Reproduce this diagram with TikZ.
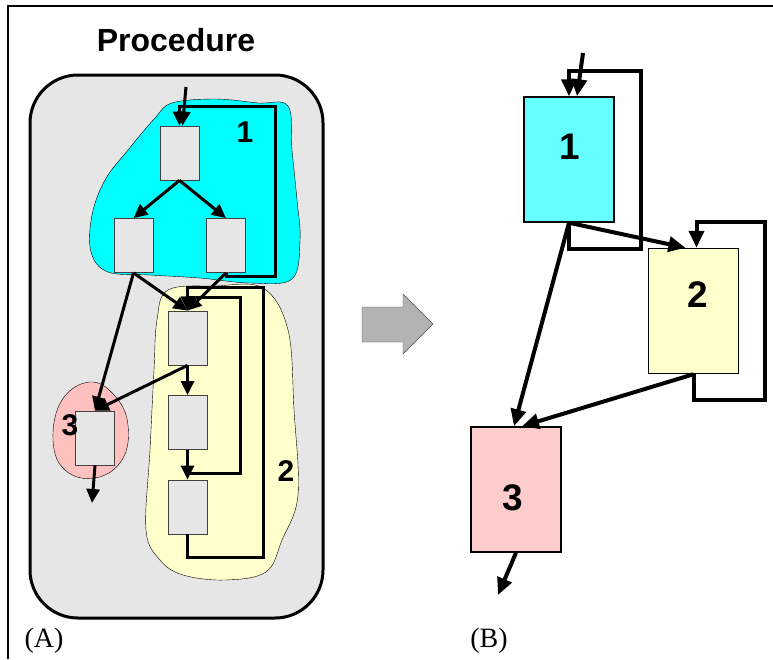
\documentclass[tikz,border=0pt]{standalone}
\usepackage{fontspec}
\setmainfont{Liberation Serif}
\setsansfont{Liberation Sans}
\usetikzlibrary{arrows.meta}

\definecolor{procgray}{HTML}{E6E6E6}
\definecolor{blobcyan}{HTML}{00FFFF}
\definecolor{blobyellow}{HTML}{FFFFCC}
\definecolor{blobpink}{HTML}{FFC0C0}
\definecolor{boxcyan}{HTML}{66FFFF}
\definecolor{boxpink}{HTML}{FFCCCC}
\definecolor{arrowgray}{HTML}{B3B3B3}

\begin{document}
\begin{tikzpicture}[x=1pt, y=-1pt,
    box/.style={draw=black!75, fill=procgray, line width=0.8pt,
        minimum width=39pt, minimum height=54pt, inner sep=0pt},
    bigbox/.style={draw, line width=1.5pt,
        minimum width=90pt, minimum height=125pt, inner sep=0pt},
    post/.style={-{Triangle[length=14pt,width=13pt]}, line width=3pt},
    bigpost/.style={-{Triangle[length=17pt,width=15pt]}, line width=4pt},
    num/.style={font=\sffamily\bfseries\fontsize{30}{30}\selectfont},
    bignum/.style={font=\sffamily\bfseries\fontsize{37}{37}\selectfont},
    tag/.style={font=\fontsize{28}{28}\selectfont}]

    \useasboundingbox (0,0) rectangle (773,659);

    % frame
    \draw[line width=2pt] (8,659) -- (8,6) -- (773,6);

    % procedure
    \draw[line width=3pt, fill=procgray, rounded corners=48pt]
        (30,75) rectangle (323,618);
    \node[font=\sffamily\bfseries\fontsize{32}{32}\selectfont]
        (title) at (176,40) {Procedure};

    % draw regions
    \draw[thin, fill=blobcyan] plot[smooth cycle, tension=0.6] coordinates
        {(172,103) (215,99) (258,103) (288,106) (292,150) (297,200) (300,240)
         (292,279) (250,283) (200,278) (150,275) (108,272) (91,252) (92,215)
         (105,180) (128,150) (155,118)};
    \draw[thin, fill=blobyellow] plot[smooth cycle, tension=0.6] coordinates
        {(168,290) (215,286) (263,288) (288,330) (294,410) (298,495) (282,540)
         (266,572) (225,580) (183,575) (160,560) (146,530) (150,450) (154,370)
         (157,320)};
    \draw[thin, fill=blobpink] plot[smooth cycle, tension=0.7] coordinates
        {(90,382) (115,396) (128,425) (122,460) (95,478) (65,470) (53,440)
         (62,400)};

    % draw nodes
    \foreach \n/\x/\y in {1/179.5/153, 2/133.5/245.5, 3/226/245.5,
        4/187.5/338, 5/187.5/422.5, 6/187.5/507, 7/95/438}
        \node [box] (v\n) at (\x, \y) {};

    \node[num] (l1) at (245,132) {1};
    \node[num] (l2) at (286,471) {2};
    \node[num] (l3) at (70,425) {3};

    % draw edges
    \foreach \i/\j in {1/2, 1/3, 2/4, 3/4, 2/7, 4/7, 4/5, 5/6}
        \draw[post] (v\i.south) -- (v\j.north);

    \coordinate (in1) at (186,87);
    \coordinate (out7) at (92,503);
    \coordinate (k6) at (187.5,473);
    \draw[post] (in1) -- ([xshift=3pt]v1.north);
    \draw[post] (v7.south) -- (out7);

    % loops
    \draw[post] (v3.south) -- ++(0,4) -| (275,106) -| (v1.north);
    \draw[post] (v6.south) |- (263,557) -- (263,287) -| (v4.north);
    \draw[post] (k6) -| (240,297) -| (v4.north);

    % arrow
    \draw[fill=arrowgray, draw=black!70, thin]
        (362,307) -- (403,307) -- (403,294) -- (433,324) -- (403,354)
        -- (403,342) -- (362,342) -- cycle;

    % draw blocks
    \node[bigbox, fill=boxcyan] (w1) at (569,159.5) {};
    \node[bigbox, fill=blobyellow] (w2) at (693.5,311) {};
    \node[bigbox, fill=boxpink] (w3) at (516,489.5) {};

    \node[bignum] (m1) at (570,147) {1};
    \node[bignum] (m2) at (698,295) {2};
    \node[bignum] (m3) at (513,498) {3};

    \coordinate (in2) at (583,53);
    \coordinate (out3) at (498,595);
    \draw[bigpost] (in2) -- ([xshift=8pt]w1.north);
    \draw[bigpost] (w1.south) -- ++(0,26) -| (641,71) -| (w1.north);
    \draw[bigpost] (w1.south) -- ([xshift=-8pt]w2.north);
    \draw[bigpost] (w1.south) -- ([xshift=-2pt]w3.north);
    \draw[bigpost] (w2.south) -- ++(0,26) -| (765,222) -| ([xshift=3pt]w2.north);
    \draw[bigpost] (w2.south) -- ([xshift=6pt]w3.north);
    \draw[bigpost] (w3.south) -- (out3);

    % captions
    \node[tag] (capA) at (44,641) {(A)};
    \node[tag] (capB) at (489,641) {(B)};
\end{tikzpicture}
\end{document}
